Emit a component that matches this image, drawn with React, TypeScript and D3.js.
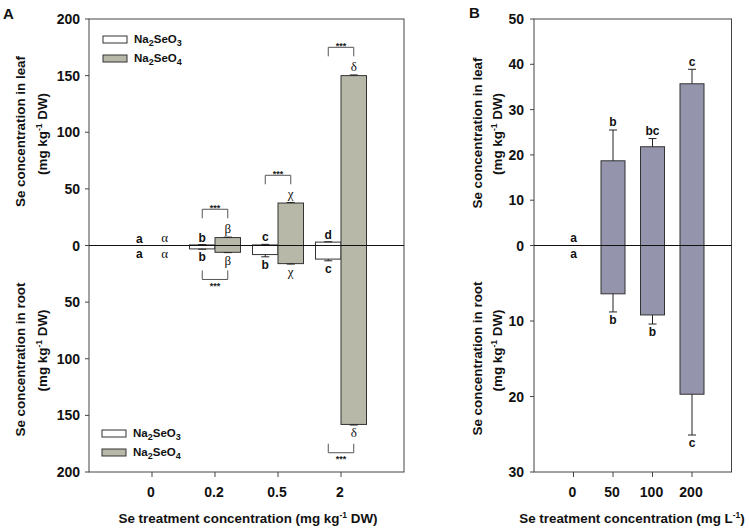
import React from 'react';
import * as d3 from 'd3';

// ---------- Panel A data ----------
const categoriesA = ['0', '0.2', '0.5', '2'];
const seleniteLeaf = [0, 0.5, 0.5, 3];
const seleniteLeafErr = [0, 0.3, 0.5, 0.3];
const seleniteRoot = [0, 3, 8, 12];
const seleniteRootErr = [0, 0.3, 2, 1.5];
const selenateLeaf = [0, 7, 37.5, 150];
const selenateLeafErr = [0, 0.4, 0.5, 0.6];
const selenateRoot = [0, 6, 16, 158];
const selenateRootErr = [0, 0.3, 0.4, 0.5];
const seleniteLeafLetters = ['a', 'b', 'c', 'd'];
const selenateLeafLetters = ['α', 'β', 'χ', 'δ'];
const seleniteRootLetters = ['a', 'b', 'b', 'c'];
const selenateRootLetters = ['α', 'β', 'χ', 'δ'];
const sigLeafLevel: (number | null)[] = [null, 32, 62, 175];
const sigRootLevel: (number | null)[] = [null, 30, null, 183];
const ticksA = [0, 50, 100, 150, 200];

// ---------- Panel B data ----------
const categoriesB = ['0', '50', '100', '200'];
const leafB = [0, 18.7, 21.8, 35.7];
const leafBErr = [0, 6.8, 1.8, 3.2];
const rootB = [0, 6.4, 9.2, 19.7];
const rootBErr = [0, 2.4, 1.2, 5.4];
const leafBLetters = ['a', 'b', 'bc', 'c'];
const rootBLetters = ['a', 'b', 'b', 'c'];
const leafTicksB = [0, 10, 20, 30, 40, 50];
const rootTicksB = [10, 20, 30];

const FONT = '"Liberation Sans", Arial, sans-serif';
const SERIF = '"Liberation Serif", "DejaVu Serif", serif';
const FRAME = '#444';
const GRAY_A = '#b8b8a9';
const FILL_B = '#9494ac';
const TXT = '#111';

const TOP = 19;
const BOTTOM = 472;
const ZERO = 245.5;
const TICK_FS = 14;
const TITLE_FS = 13.4;
const LETTER_FS = 12;

function ErrorBar({ x, y0, y1 }: { x: number; y0: number; y1: number }) {
  return (
    <g stroke="#222" strokeWidth={1}>
      <line x1={x} x2={x} y1={y0} y2={y1} />
      <line x1={x - 4} x2={x + 4} y1={y1} y2={y1} />
    </g>
  );
}

function YTitle({ x, y, label }: { x: number; y: number; label: string }) {
  return (
    <text transform={`translate(${x},${y}) rotate(-90)`} textAnchor="middle" fontFamily={FONT} fontWeight="bold" fontSize={TITLE_FS} fill={TXT}>
      {label}
    </text>
  );
}

function YUnit({ x, y }: { x: number; y: number }) {
  return (
    <text transform={`translate(${x},${y}) rotate(-90)`} textAnchor="middle" fontFamily={FONT} fontWeight="bold" fontSize={TITLE_FS} fill={TXT}>
      (mg kg<tspan dy={-5} fontSize={8.5}>-1</tspan><tspan dy={5}> DW)</tspan>
    </text>
  );
}

function LegendItem({ x, y, fill, n }: { x: number; y: number; fill: string; n: string }) {
  return (
    <g>
      <rect x={x} y={y} width={24} height={7} fill={fill} stroke="#333" strokeWidth={1} />
      <text x={x + 31} y={y + 7} fontFamily={FONT} fontWeight="bold" fontSize={11.5} fill={TXT}>
        Na<tspan dy={3} fontSize={9}>2</tspan><tspan dy={-3}>SeO</tspan><tspan dy={3} fontSize={9}>{n}</tspan>
      </text>
    </g>
  );
}

function PanelA() {
  const left = 89, right = 404;
  const step = (right - left) / 5;
  const x = d3.scalePoint<string>().domain(categoriesA).range([left + step, right - step]);
  const yLeaf = d3.scaleLinear().domain([0, 200]).range([ZERO, TOP]);
  const yRoot = d3.scaleLinear().domain([0, 200]).range([ZERO, BOTTOM]);
  const bw = 25.5;

  const series = [
    { leaf: seleniteLeaf, leafErr: seleniteLeafErr, root: seleniteRoot, rootErr: seleniteRootErr, fill: '#fff', off: -bw, lettersL: seleniteLeafLetters, lettersR: seleniteRootLetters, serif: false },
    { leaf: selenateLeaf, leafErr: selenateLeafErr, root: selenateRoot, rootErr: selenateRootErr, fill: GRAY_A, off: 0, lettersL: selenateLeafLetters, lettersR: selenateRootLetters, serif: true },
  ];

  return (
    <g>
      <text x={3} y={18.5} fontFamily={FONT} fontWeight="bold" fontSize={15} fill={TXT}>A</text>
      {series.map((s, si) => (
        <g key={si}>
          {categoriesA.map((c, i) => {
            const cx = (x(c) as number) + s.off;
            const mid = cx + bw / 2;
            const out: any[] = [];
            if (s.leaf[i] > 0) {
              out.push(<rect key="l" x={cx} y={yLeaf(s.leaf[i])} width={bw} height={ZERO - yLeaf(s.leaf[i])} fill={s.fill} stroke="#333" strokeWidth={1} />);
            }
            if (s.root[i] > 0) {
              out.push(<rect key="r" x={cx} y={ZERO} width={bw} height={yRoot(s.root[i]) - ZERO} fill={s.fill} stroke="#333" strokeWidth={1} />);
            }
            if (s.leafErr[i] > 0) out.push(<ErrorBar key="le" x={mid} y0={yLeaf(s.leaf[i])} y1={yLeaf(s.leaf[i] + s.leafErr[i])} />);
            if (s.rootErr[i] > 0) out.push(<ErrorBar key="re" x={mid} y0={yRoot(s.root[i])} y1={yRoot(s.root[i] + s.rootErr[i])} />);
            const topY = yLeaf(s.leaf[i] + s.leafErr[i]);
            const botY = yRoot(s.root[i] + s.rootErr[i]);
            const fam = s.serif ? SERIF : FONT;
            const fw = s.serif ? 'normal' : 'bold';
            const fs = s.serif ? 13 : LETTER_FS;
            out.push(<text key="tl" x={mid} y={topY - (s.serif ? 4 : 3)} textAnchor="middle" fontFamily={fam} fontWeight={fw} fontSize={fs} fill={TXT}>{s.lettersL[i]}</text>);
            out.push(<text key="tr" x={mid} y={botY + 12} textAnchor="middle" fontFamily={fam} fontWeight={fw} fontSize={fs} fill={TXT}>{s.lettersR[i]}</text>);
            return <g key={c}>{out}</g>;
          })}
        </g>
      ))}
      {categoriesA.map((c, i) => {
        const x1 = (x(c) as number) - bw / 2;
        const x2 = (x(c) as number) + bw / 2;
        const out: any[] = [];
        const lt = sigLeafLevel[i];
        if (lt !== null) {
          const yy = yLeaf(lt);
          out.push(<path key="bl" d={`M${x1},${yy + 9}V${yy}H${x2}V${yy + 9}`} fill="none" stroke="#555" strokeWidth={1} />);
          out.push(<text key="sl" x={x(c)} y={yy + 1.5} textAnchor="middle" fontFamily={FONT} fontWeight="bold" fontSize={9} fill="#222">***</text>);
        }
        const rt = sigRootLevel[i];
        if (rt !== null) {
          const yy = yRoot(rt);
          out.push(<path key="br" d={`M${x1},${yy - 9}V${yy}H${x2}V${yy - 9}`} fill="none" stroke="#555" strokeWidth={1} />);
          out.push(<text key="sr" x={x(c)} y={yy + 9.5} textAnchor="middle" fontFamily={FONT} fontWeight="bold" fontSize={9} fill="#222">***</text>);
        }
        return <g key={'s' + c}>{out}</g>;
      })}
      <rect x={left} y={TOP} width={right - left} height={BOTTOM - TOP} fill="none" stroke={FRAME} strokeWidth={1} />
      <line x1={left - 4} x2={right} y1={ZERO} y2={ZERO} stroke="#111" strokeWidth={1} />
      {ticksA.map((t) => (
        <g key={'yl' + t}>
          <line x1={left - 4} x2={left} y1={yLeaf(t)} y2={yLeaf(t)} stroke={FRAME} />
          <text x={left - 9} y={yLeaf(t) + 5} textAnchor="end" fontFamily={FONT} fontWeight="bold" fontSize={TICK_FS} fill={TXT}>{t}</text>
        </g>
      ))}
      {ticksA.filter((t) => t > 0).map((t) => (
        <g key={'yr' + t}>
          <line x1={left - 4} x2={left} y1={yRoot(t)} y2={yRoot(t)} stroke={FRAME} />
          <text x={left - 9} y={yRoot(t) + 5} textAnchor="end" fontFamily={FONT} fontWeight="bold" fontSize={TICK_FS} fill={TXT}>{t}</text>
        </g>
      ))}
      {categoriesA.map((c) => (
        <g key={'x' + c}>
          <line x1={x(c)} x2={x(c)} y1={BOTTOM} y2={BOTTOM + 5} stroke={FRAME} />
          <text x={(x(c) as number) - 1} y={497} textAnchor="middle" fontFamily={FONT} fontWeight="bold" fontSize={TICK_FS} fill={TXT}>{c}</text>
        </g>
      ))}
      <LegendItem x={103} y={36} fill="#fff" n="3" />
      <LegendItem x={103} y={55} fill={GRAY_A} n="4" />
      <LegendItem x={102} y={430} fill="#fff" n="3" />
      <LegendItem x={102} y={449} fill={GRAY_A} n="4" />
      <YTitle x={25} y={131.5} label="Se concentration in leaf" />
      <YUnit x={47} y={134} />
      <YTitle x={25} y={359.5} label="Se concentration in root" />
      <YUnit x={47} y={350.5} />
      <text x={248} y={522.5} textAnchor="middle" fontFamily={FONT} fontWeight="bold" fontSize={TITLE_FS} fill={TXT}>
        Se treatment concentration (mg kg<tspan dy={-5} fontSize={8.5}>-1</tspan><tspan dy={5}> DW)</tspan>
      </text>
    </g>
  );
}

function PanelB() {
  const left = 534, right = 731.5;
  const step = (right - left) / 5;
  const x = d3.scalePoint<string>().domain(categoriesB).range([left + step, right - step]);
  const yLeaf = d3.scaleLinear().domain([0, 50]).range([ZERO, TOP]);
  const yRoot = d3.scaleLinear().domain([0, 30]).range([ZERO, BOTTOM]);
  const bw = 24;

  return (
    <g>
      <text x={469} y={17.5} fontFamily={FONT} fontWeight="bold" fontSize={15} fill={TXT}>B</text>
      {categoriesB.map((c, i) => {
        const mid = x(c) as number;
        const out: any[] = [];
        if (leafB[i] > 0) out.push(<rect key="l" x={mid - bw / 2} y={yLeaf(leafB[i])} width={bw} height={ZERO - yLeaf(leafB[i])} fill={FILL_B} stroke="#333" />);
        if (rootB[i] > 0) out.push(<rect key="r" x={mid - bw / 2} y={ZERO} width={bw} height={yRoot(rootB[i]) - ZERO} fill={FILL_B} stroke="#333" />);
        if (leafBErr[i] > 0) out.push(<ErrorBar key="le" x={mid} y0={yLeaf(leafB[i])} y1={yLeaf(leafB[i] + leafBErr[i])} />);
        if (rootBErr[i] > 0) out.push(<ErrorBar key="re" x={mid} y0={yRoot(rootB[i])} y1={yRoot(rootB[i] + rootBErr[i])} />);
        out.push(<text key="tl" x={mid} y={yLeaf(leafB[i] + leafBErr[i]) - 3.5} textAnchor="middle" fontFamily={FONT} fontWeight="bold" fontSize={LETTER_FS} fill={TXT}>{leafBLetters[i]}</text>);
        out.push(<text key="tr" x={mid} y={yRoot(rootB[i] + rootBErr[i]) + 12} textAnchor="middle" fontFamily={FONT} fontWeight="bold" fontSize={LETTER_FS} fill={TXT}>{rootBLetters[i]}</text>);
        return <g key={c}>{out}</g>;
      })}
      <rect x={left} y={TOP} width={right - left} height={BOTTOM - TOP} fill="none" stroke={FRAME} strokeWidth={1} />
      <line x1={left - 4} x2={right} y1={ZERO} y2={ZERO} stroke="#111" strokeWidth={1} />
      {leafTicksB.map((t) => (
        <g key={'yl' + t}>
          <line x1={left - 4} x2={left} y1={yLeaf(t)} y2={yLeaf(t)} stroke={FRAME} />
          <text x={left - 10} y={yLeaf(t) + 5} textAnchor="end" fontFamily={FONT} fontWeight="bold" fontSize={TICK_FS} fill={TXT}>{t}</text>
        </g>
      ))}
      {rootTicksB.map((t) => (
        <g key={'yr' + t}>
          <line x1={left - 4} x2={left} y1={yRoot(t)} y2={yRoot(t)} stroke={FRAME} />
          <text x={left - 10} y={yRoot(t) + 5} textAnchor="end" fontFamily={FONT} fontWeight="bold" fontSize={TICK_FS} fill={TXT}>{t}</text>
        </g>
      ))}
      {categoriesB.map((c) => (
        <g key={'x' + c}>
          <line x1={x(c)} x2={x(c)} y1={BOTTOM} y2={BOTTOM + 5} stroke={FRAME} />
          <text x={(x(c) as number) - 1} y={497} textAnchor="middle" fontFamily={FONT} fontWeight="bold" fontSize={TICK_FS} fill={TXT}>{c}</text>
        </g>
      ))}
      <YTitle x={482} y={133} label="Se concentration in leaf" />
      <YUnit x={502} y={134} />
      <YTitle x={482} y={358.5} label="Se concentration in root" />
      <YUnit x={502} y={350.5} />
      <text x={632} y={522.5} textAnchor="middle" fontFamily={FONT} fontWeight="bold" fontSize={TITLE_FS} fill={TXT}>
        Se treatment concentration (mg L<tspan dy={-5} fontSize={8.5}>-1</tspan><tspan dy={5}>)</tspan>
      </text>
    </g>
  );
}

export default function App() {
  return (
    <svg width={749} height={530} viewBox="0 0 749 530" style={{ position: 'absolute', left: 0, top: 0, background: '#fff' }}>
      <rect x={0} y={0} width={749} height={530} fill="#fff" />
      <PanelA />
      <PanelB />
    </svg>
  );
}
